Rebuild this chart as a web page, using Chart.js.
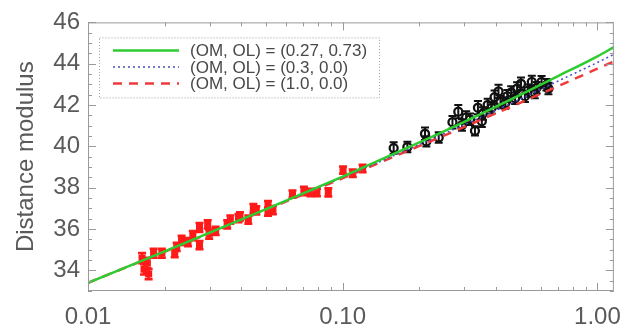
<!DOCTYPE html>
<html><head><meta charset="utf-8">
<script src="https://cdn.jsdelivr.net/npm/chart.js@4/dist/chart.umd.min.js"></script>
<style>html,body{margin:0;padding:0;background:#fff;}#wrap{width:633px;height:329px;position:relative;}</style>
</head><body><div id="wrap"><canvas id="c"></canvas></div>
<script>
// ---- data ----
const redZ   = [0.0163,0.0166,0.0173,0.0171,0.0181,0.0195,0.0219,0.0223,0.0233,0.0247,0.0258,0.0274,0.0274,0.0295,0.0299,0.0317,0.0352,0.0362,0.0390,0.0395,0.0426,0.0446,0.0458,0.0509,0.0509,0.0532,0.0635,0.0704,0.0747,0.0792,0.0878,0.1003,0.1095,0.1197];
const redMu  = [34.59,34.05,33.82,34.36,34.83,34.83,34.83,35.14,35.45,35.37,35.68,35.22,36.07,36.22,35.75,35.91,36.22,36.45,36.53,36.61,36.45,36.99,36.90,37.15,36.84,36.91,37.69,37.84,37.77,37.77,37.77,38.85,38.70,38.93];
const redErr = [0.25,0.25,0.25,0.25,0.22,0.22,0.20,0.20,0.22,0.20,0.22,0.20,0.22,0.20,0.22,0.20,0.20,0.20,0.20,0.20,0.20,0.22,0.20,0.20,0.20,0.20,0.18,0.20,0.18,0.18,0.20,0.18,0.18,0.18];
const blackZ   = [0.1585,0.1794,0.2104,0.2130,0.2382,0.2697,0.2843,0.2940,0.3052,0.3162,0.3305,0.3395,0.3517,0.3548,0.3708,0.3842,0.3947,0.4089,0.4162,0.4350,0.4428,0.4586,0.4753,0.4837,0.5012,0.5193,0.5333,0.5525,0.5673,0.5774,0.6036,0.6310,0.6422];
const blackMu  = [39.92,39.97,40.61,40.24,40.43,41.17,41.68,41.03,41.40,41.31,40.75,41.87,41.22,41.59,42.01,41.87,42.38,42.66,42.15,42.10,42.43,42.61,42.33,42.80,43.03,42.43,42.70,43.12,42.61,42.84,43.12,42.98,42.80];
const blackErr = [0.28,0.25,0.30,0.25,0.25,0.30,0.32,0.28,0.30,0.28,0.22,0.32,0.28,0.30,0.30,0.28,0.32,0.32,0.30,0.28,0.30,0.30,0.28,0.30,0.30,0.28,0.30,0.30,0.28,0.28,0.28,0.28,0.28];
const curveZ   = [0.01,0.02,0.05,0.1,0.2,0.3,0.5,0.7,1.0,1.16];
const lcdmMu   = [33.40,34.92,36.96,38.54,40.19,41.19,42.51,43.40,44.36,44.80];
const openMu   = [33.40,34.91,36.95,38.50,40.09,41.05,42.30,43.16,44.06,44.45];
const edsMu    = [33.40,34.90,36.93,38.46,40.02,40.94,42.12,42.91,43.76,44.11];
const seriesLabels = ['(OM, OL) = (0.27, 0.73)','(OM, OL) = (0.3, 0.0)','(OM, OL) = (1.0, 0.0)'];
const xTicks = [0.01,0.1,1.0];
const xTickLabels = ['0.01','0.10','1.00'];
const yTicks = [34,36,38,40,42,44,46];
const yTickLabels = ['34','36','38','40','42','44','46'];
const xMin = 0.01, xMax = 1.16, yMin = 33, yMax = 46;

const pts = (xs, ys) => xs.map((x,i)=>({x:x, y:ys[i]}));

const errorBars = {
  id:'errorBars',
  beforeDatasetsDraw(chart){
    const ctx = chart.ctx, ys = chart.scales.y;
    chart.data.datasets.forEach((ds,di)=>{
      if(!ds.errors) return;
      const meta = chart.getDatasetMeta(di);
      ctx.save();
      ctx.strokeStyle = ds.errColor; ctx.lineWidth = ds.errWidth;
      meta.data.forEach((el,i)=>{
        const v = ds.data[i].y, e = ds.errors[i];
        const y1 = ys.getPixelForValue(v+e), y2 = ys.getPixelForValue(v-e), x = el.x, c = ds.capHalf;
        ctx.beginPath();
        ctx.moveTo(x,y1); ctx.lineTo(x,y2);
        ctx.moveTo(x-c,y1); ctx.lineTo(x+c,y1);
        ctx.moveTo(x-c,y2); ctx.lineTo(x+c,y2);
        ctx.stroke();
      });
      ctx.restore();
    });
  }
};

const frame = {
  id:'frame',
  afterDatasetsDraw(chart){
    const {ctx, chartArea:a} = chart, xs = chart.scales.x, ys = chart.scales.y;
    ctx.save();
    ctx.strokeStyle = '#9a9a9a'; ctx.lineWidth = 1;
    ctx.strokeRect(a.left+0.5, a.top+0.5, a.right-a.left-1, a.bottom-a.top-1);
    ctx.beginPath();
    for(let v=yMin; v<=yMax+1e-9; v+=0.5){
      const y = Math.round(ys.getPixelForValue(v))+0.5;
      const L = (Math.abs(v/2-Math.round(v/2))<1e-6) ? 8 : 4;
      ctx.moveTo(a.left, y); ctx.lineTo(a.left+L, y);
      ctx.moveTo(a.right, y); ctx.lineTo(a.right-L, y);
    }
    for(let d=0.01; d<2; d*=10){
      for(let k=1;k<=9;k++){
        const v = d*k; if(v<xMin-1e-9||v>xMax) continue;
        const x = Math.round(xs.getPixelForValue(v))+0.5;
        const L = k===1 ? 8 : 4;
        ctx.moveTo(x, a.bottom); ctx.lineTo(x, a.bottom-L);
        ctx.moveTo(x, a.top); ctx.lineTo(x, a.top+L);
      }
    }
    ctx.stroke();
    ctx.restore();
  }
};

const boxLegend = {
  id:'boxLegend',
  afterDraw(chart){
    const {ctx, chartArea:a} = chart;
    const bx = a.left+11, by = a.top+15, bw = 280, bh = 60;
    ctx.save();
    ctx.fillStyle = '#fff'; ctx.fillRect(bx,by,bw,bh);
    ctx.strokeStyle = '#a0a0a0'; ctx.lineWidth = 1; ctx.setLineDash([1,2]);
    ctx.strokeRect(bx+0.5,by+0.5,bw,bh);
    const lines = chart.data.datasets.filter(d=>d.legendRow!==undefined);
    lines.forEach(ds=>{
      const y = by + 13 + ds.legendRow*16.5;
      ctx.strokeStyle = ds.borderColor; ctx.lineWidth = ds.borderWidth;
      ctx.setLineDash(ds.borderDash||[]);
      ctx.beginPath(); ctx.moveTo(bx+14,y); ctx.lineTo(bx+80,y); ctx.stroke();
      ctx.setLineDash([]);
      ctx.fillStyle = '#484848'; ctx.font = '17px "Liberation Sans", Arial, sans-serif';
      ctx.textBaseline = 'middle'; ctx.textAlign = 'left';
      ctx.fillText(ds.label, bx+91, y+1);
    });
    ctx.restore();
  }
};

const tickFont = {family:'"Liberation Sans", Arial, sans-serif', size:24};
new Chart(document.getElementById('c'), {
  type:'scatter',
  data:{datasets:[
    {label:seriesLabels[0], legendRow:0, data:pts(curveZ,lcdmMu), showLine:true, pointRadius:0, borderColor:'#2ecc2e', borderWidth:2.5, cubicInterpolationMode:'monotone', order:0},
    {label:seriesLabels[1], legendRow:1, data:pts(curveZ,openMu), showLine:true, pointRadius:0, borderColor:'#4a4ac8', borderWidth:1.5, borderDash:[2,3], cubicInterpolationMode:'monotone', order:0},
    {label:seriesLabels[2], legendRow:2, data:pts(curveZ,edsMu), showLine:true, pointRadius:0, borderColor:'#f03a3a', borderWidth:2.5, borderDash:[9,7], cubicInterpolationMode:'monotone', order:0},
    {label:'low z', data:pts(redZ,redMu), errors:redErr, errColor:'#ff1a1a', errWidth:2.5, capHalf:4, pointStyle:'rect', pointRadius:5, backgroundColor:'#ff1a1a', borderColor:'#ff1a1a', borderWidth:0, order:1},
    {label:'high z', data:pts(blackZ,blackMu), errors:blackErr, errColor:'#111', errWidth:2, capHalf:4, pointStyle:'circle', pointRadius:4, backgroundColor:'rgba(0,0,0,0)', borderColor:'#111', borderWidth:2.3, order:1}
  ]},
  options:{
    responsive:true, maintainAspectRatio:false, animation:false, devicePixelRatio:1,
    layout:{padding:{top:11,right:7,left:0,bottom:0}},
    plugins:{legend:{display:false}, tooltip:{enabled:false}},
    scales:{
      x:{type:'logarithmic', min:xMin, max:xMax,
        afterBuildTicks:s=>{s.ticks = xTicks.map(v=>({value:v}));},
        afterFit:s=>{s.height = 38;},
        grid:{display:false, drawTicks:false}, border:{display:false},
        ticks:{autoSkip:false, maxRotation:0, padding:12, color:'#5a5a5a', font:tickFont, callback:(v,i)=>xTickLabels[i]}
      },
      y:{type:'linear', min:yMin, max:yMax,
        afterBuildTicks:s=>{s.ticks = yTicks.map(v=>({value:v}));},
        afterFit:s=>{s.width = 88;},
        grid:{display:false, drawTicks:false}, border:{display:false},
        ticks:{padding:8, color:'#5a5a5a', font:tickFont, callback:(v,i)=>yTickLabels[i]},
        title:{display:true, text:'Distance modulus', color:'#5a5a5a', font:tickFont, padding:{top:12,bottom:0}}
      }
    }
  },
  plugins:[errorBars, frame, boxLegend]
});
</script></body></html>
